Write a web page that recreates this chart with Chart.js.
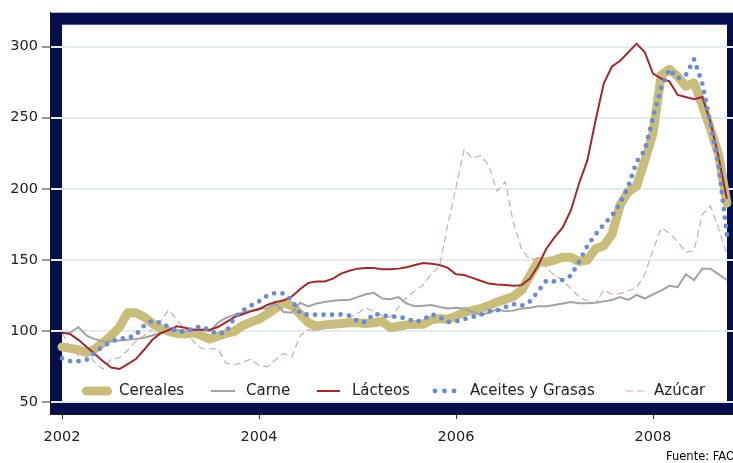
<!DOCTYPE html>
<html><head><meta charset="utf-8">
<script src="https://cdn.jsdelivr.net/npm/chart.js@4/dist/chart.umd.min.js"></script>
<style>
html,body{margin:0;padding:0;background:#fff;overflow:hidden;width:733px;height:463px}
#wrap{width:733px;height:463px;overflow:hidden;position:relative}
canvas{display:block}
</style></head>
<body><div id="wrap"><canvas id="c" width="750" height="463"></canvas></div>
<script>
// Monthly series, January 2002 to October 2008
const startYear = 2002;
const yearTicks = [2002, 2004, 2006, 2008];
const valueTicks = [50, 100, 150, 200, 250, 300];
const seriesNames = ['Cereales', 'Carne', 'Lácteos', 'Aceites y Grasas', 'Azúcar'];
const sourceNote = 'Fuente: FAO';

const cereales = [89,88,87,85,87.5,92,97,103,113,113, 110,105.5,102,100,98.5,98,99,97,94.5,96.5, 98.5,100,104,106.5,108.5,112,116,120,118,112, 106,103.5,104.5,105,105.5,106,106,105.5,106,107, 102.5,103.5,104.5,105,105,108,109,108.5,110.5,113.5, 114.5,116,118,120.5,122.5,124.5,129,139,149,148.5, 150,152,152,149,150,158,160,168,189,198, 202,220,239,280,284,279,272,274.5,259,242, 224,190];
const carne = [99,99,103,97,94.5,93,93,93.5,94,94.5, 95.5,97,99,100,100.5,100.5,100.5,101,100,106, 109.5,111.5,113,114.5,116,116,119.5,113.5,113,120, 117.5,119.5,120.5,121.5,122,122,124,126,127,123, 122.5,124,119.5,117.5,118,118.5,117,116,116.5,116, 113.5,111.5,113,115.5,114,114.5,116,116.5,117.5,117.5, 118.5,119.5,120.5,119.7,119.7,120,121,122,124,122, 125.5,123,126,128.5,132,131,140,136,144,144, 140,136];
const lacteos = [99,98,94,89,84,79,74.5,73.5,77,80.5, 87,94,98.5,101,103.5,102.5,101,101,101,103, 106.5,110,112,114,115.5,118.5,120.5,121.5,124.5,129.5, 134,135,135,137,140.5,142.5,144,144.5,144.5,143.5, 143.5,144,145,146.5,148,147.5,146.5,144.5,140,139.5, 137.5,135.5,133.5,132.8,132.5,132,132.4,137,146,158, 166,173,185,204,220,248,274,286,290,296, 302,296,281,277.5,275.5,266,264.5,263,264.5,247, 222,193];
const aceites = [81,79,79,80,85,89.5,92.5,95,95,97.5, 104,107.5,106,103,100,99.6,102,103.5,100.5,98, 99.5,109.5,114.5,118,121,125,127,126.5,122,112.5, 111.6,111.6,111.6,111.6,111.8,111,107,106.5,112.5,111, 110.5,110,109,106.5,108,112,110,106.5,107,108.5, 110,111.5,114,114.5,117,119,118,121,128,135.5, 135,136,139,149,160,168,175,181,190,202, 219,227,250,271,284,277.5,280,291,274,246, 216,168];
const azucar = [99,88.5,83,85,78,73.5,80.5,81.5,86.5,93, 97,101.5,107,115,108,101,93,88,87.6,87.6, 77.5,76.5,78,80.5,76,75,80,84.5,82,97, 101,100.5,104,107,106.5,109.5,112.5,116.5,114,111, 110,117,124,128.5,132.5,140.5,146,175,201,228, 221.5,223.5,216,198.5,205,176,157.5,150.5,151,144.5, 139.3,136,130,124,121.5,119.7,129,126,126.5,128.5, 130.5,140,157,172.5,169,163,155.5,156.5,182,188, 172,154];

function toPoints(arr) { return arr.map((v, i) => ({ x: startYear + i / 12, y: v })); }

const COLORS = {
  cereales: '#c9bd7c',
  carne: '#a3a3a3',
  lacteos: '#9e2a30',
  aceites: '#6b8bd0',
  azucar: '#d3aca7',
  navy: '#020f4c'
};

Chart.defaults.font.family = 'DejaVu Sans';

const framePlugin = {
  id: 'frame',
  beforeDraw(chart) {
    const a = chart.chartArea, ctx = chart.ctx, t = 12;
    ctx.save();
    ctx.fillStyle = COLORS.navy;
    ctx.fillRect(a.left, a.top, a.right - a.left, a.bottom - a.top);
    ctx.fillStyle = '#ffffff';
    ctx.fillRect(a.left + t, a.top + t, a.right - a.left - 2 * t, a.bottom - a.top - 2 * t);
    ctx.restore();
  }
};

const legendPlugin = {
  id: 'customLegend',
  afterDraw(chart) {
    const ctx = chart.ctx, y = 391;
    ctx.save();
    ctx.lineCap = 'round';
    ctx.strokeStyle = COLORS.cereales; ctx.lineWidth = 9;
    ctx.beginPath(); ctx.moveTo(86.5, y); ctx.lineTo(107.5, y); ctx.stroke();
    ctx.lineCap = 'butt';
    ctx.strokeStyle = COLORS.carne; ctx.lineWidth = 2;
    ctx.beginPath(); ctx.moveTo(211, y); ctx.lineTo(235, y); ctx.stroke();
    ctx.strokeStyle = COLORS.lacteos; ctx.lineWidth = 2;
    ctx.beginPath(); ctx.moveTo(317, y); ctx.lineTo(340, y); ctx.stroke();
    ctx.fillStyle = COLORS.aceites;
    [435, 444.5, 454].forEach(cx => { ctx.beginPath(); ctx.arc(cx, y, 2.4, 0, Math.PI * 2); ctx.fill(); });
    ctx.strokeStyle = COLORS.azucar; ctx.lineWidth = 1.2; ctx.setLineDash([7, 4]);
    ctx.beginPath(); ctx.moveTo(626, y); ctx.lineTo(646, y); ctx.stroke();
    ctx.setLineDash([]);
    ctx.fillStyle = '#222';
    ctx.font = '15px "DejaVu Sans"';
    ctx.textBaseline = 'middle';
    ctx.textAlign = 'left';
    const tx = [119, 246, 352, 470, 654];
    seriesNames.forEach((n, i) => ctx.fillText(n, tx[i], y));
    ctx.font = '11.5px "DejaVu Sans"';
    ctx.fillStyle = '#000';
    ctx.fillText(sourceNote, 666, 457);
    ctx.restore();
  }
};

new Chart(document.getElementById('c'), {
  type: 'line',
  data: {
    datasets: [
      { label: seriesNames[0], data: toPoints(cereales), borderColor: COLORS.cereales, borderWidth: 9,
        borderJoinStyle: 'round', borderCapStyle: 'round', pointRadius: 0, tension: 0, order: 10 },
      { label: seriesNames[1], data: toPoints(carne), borderColor: COLORS.carne, borderWidth: 2,
        pointRadius: 0, tension: 0, order: 5 },
      { label: seriesNames[4], data: toPoints(azucar), borderColor: COLORS.azucar, borderWidth: 1.2,
        borderDash: [7, 4], pointRadius: 0, tension: 0, order: 4 },
      { label: seriesNames[2], data: toPoints(lacteos), borderColor: COLORS.lacteos, borderWidth: 2,
        pointRadius: 0, tension: 0, order: 3 },
      { label: seriesNames[3], data: toPoints(aceites), borderColor: COLORS.aceites, borderWidth: 4.8,
        borderDash: [0, 8.5], borderCapStyle: 'round', pointRadius: 0, tension: 0, order: 2 }
    ]
  },
  options: {
    responsive: false,
    animation: false,
    devicePixelRatio: 1,
    layout: { padding: { top: 7, right: 11, left: 0, bottom: 0 } },
    plugins: { legend: { display: false }, tooltip: { enabled: false } },
    scales: {
      x: {
        type: 'linear', min: 2001.878, max: 2008.873,
        afterBuildTicks: s => { s.ticks = yearTicks.map(v => ({ value: v })); },
        afterFit: s => { s.height = 49; },
        grid: { drawOnChartArea: false, drawTicks: true, tickLength: 5, tickColor: '#333', tickWidth: 1 },
        border: { display: true, color: '#1a1a1a', width: 1 },
        ticks: { font: { size: 14.5 }, color: '#222', padding: 10, maxRotation: 0, autoSkip: false,
                 callback: v => String(v) }
      },
      y: {
        type: 'linear', min: 41.9, max: 323.75,
        afterBuildTicks: s => { s.ticks = valueTicks.map(v => ({ value: v })); },
        afterFit: s => { s.width = 50; },
        grid: { color: '#e4ebf2', lineWidth: 2, drawTicks: true, tickLength: 8, tickColor: '#333', tickWidth: 1 },
        border: { display: true, color: '#1a1a1a', width: 1 },
        ticks: { font: { size: 14.5 }, color: '#222', padding: 4, callback: v => String(v) }
      }
    }
  },
  plugins: [framePlugin, legendPlugin]
});
</script>
</body></html>
